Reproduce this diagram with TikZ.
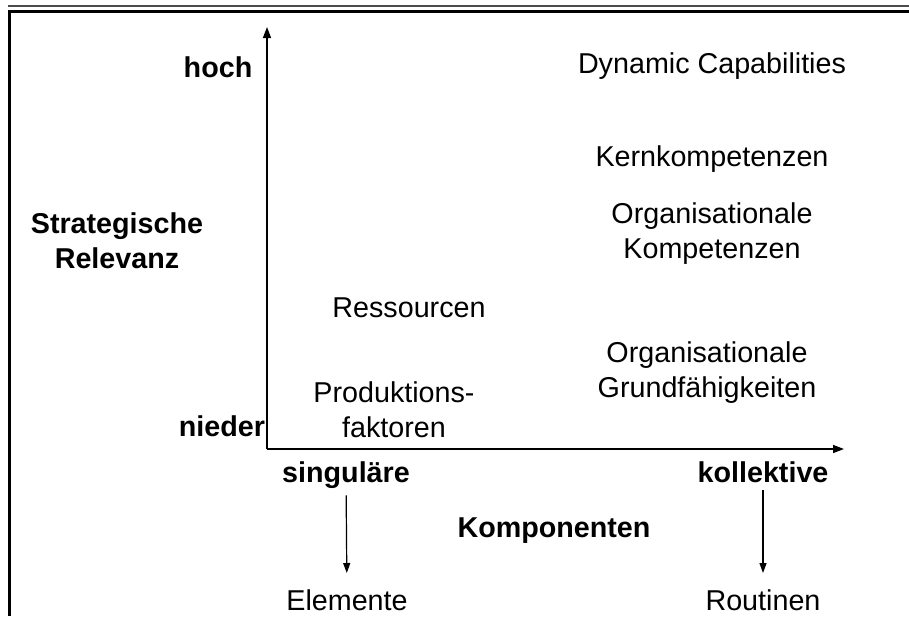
\documentclass[tikz,border=0pt]{standalone}
\usepackage{fontspec}
\setmainfont{Liberation Sans}
\usetikzlibrary{arrows.meta}
\begin{document}
\begin{tikzpicture}[x=1pt,y=-1pt,
  txt/.style={anchor=base,align=center,inner sep=3pt,font=\fontsize{28.7}{34.5}\selectfont},
  btxt/.style={txt,font=\fontsize{28.7}{34.5}\selectfont\bfseries},
  axis/.style={line width=1.4pt,-{Triangle[length=11pt,width=8pt]}},
  down/.style={line width=1.2pt,-{Triangle[length=10pt,width=7pt]}}]
\useasboundingbox (0,0) rectangle (909,616);

% frame
\draw[line width=2pt,black!70] (8,6) -- (909,6);
\draw[line width=3pt] (909,11) -- (9.5,11) -- (9.5,616);

% axes
\coordinate (o) at (267,449);
\coordinate (ytip) at (267,27);
\coordinate (xtip) at (844,449);
\draw[axis] (o) -- (ytip);
\draw[axis] (o) -- (xtip);

\node[btxt] (hoch) at (218,77) {hoch};
\node[btxt] (nieder) at (222,436) {nieder};
\node[btxt] (relevanz) at (117,268) {Strategische\\Relevanz};

\node[txt] (dyn) at (712,73) {Dynamic Capabilities};
\node[txt] (kern) at (712,166) {Kernkompetenzen};
\node[txt] (orgkomp) at (712,258) {Organisationale\\Kompetenzen};
\node[txt] (ress) at (409,317) {Ressourcen};
\node[txt] (grund) at (707,397) {Organisationale\\Grundfähigkeiten};
\node[txt] (prod) at (394,437) {Produktions-\\faktoren};

\node[btxt] (sing) at (346,482) {singuläre};
\node[btxt] (koll) at (763,482) {kollektive};
\node[btxt] (komp) at (554,537) {Komponenten};
\node[txt] (elem) at (347,610) {Elemente};
\node[txt] (rout) at (763,610) {Routinen};

\path [down,shorten <=4pt,shorten >=13pt] (sing) edge (elem);
\path [down,shorten <=5pt,shorten >=13pt] (koll) edge (rout);
\end{tikzpicture}
\end{document}
